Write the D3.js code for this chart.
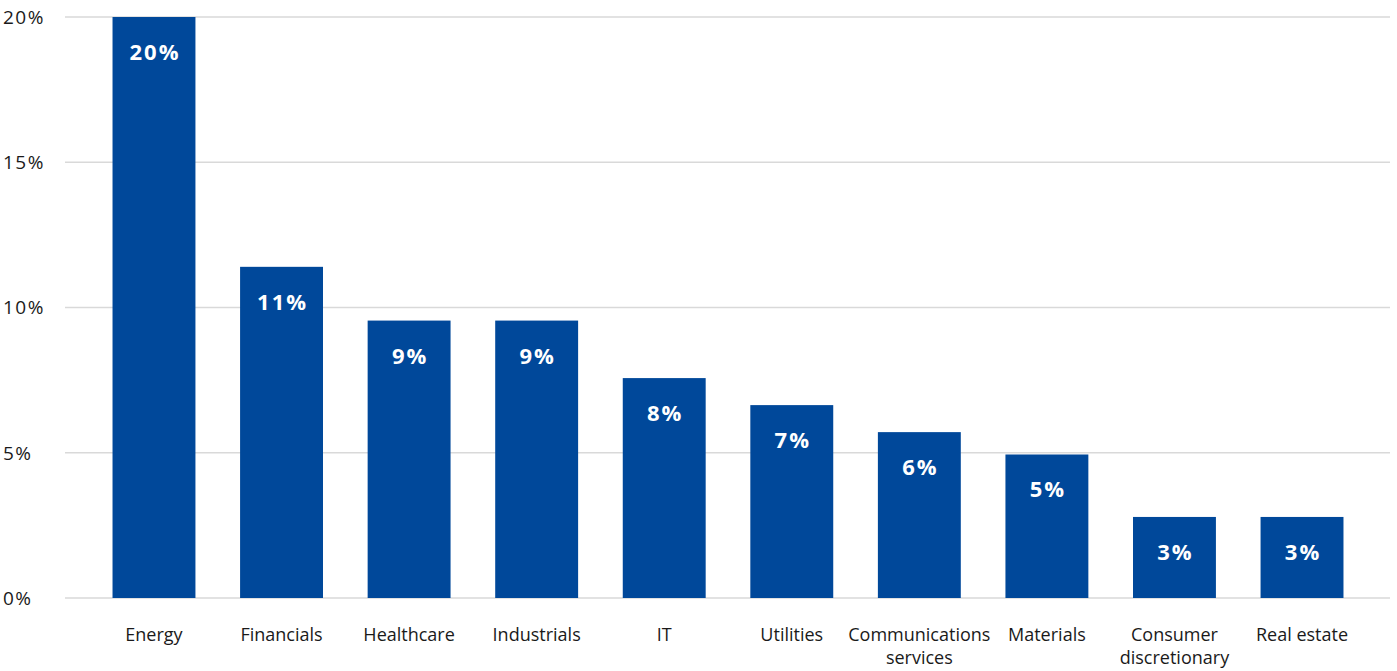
<!DOCTYPE html>
<html>
<head>
<meta charset="utf-8">
<script src="https://cdn.jsdelivr.net/npm/d3@7"></script>
<style>
  body { margin: 0; background: #fff; }
  svg { display: block; font-family: "Open Sans", Lato, sans-serif; }
</style>
</head>
<body>
<svg id="chart" width="1397" height="671"></svg>
<script>
const categories = ["Energy", "Financials", "Healthcare", "Industrials", "IT", "Utilities", "Communications services", "Materials", "Consumer discretionary", "Real estate"];
const values = [20.0, 11.4, 9.55, 9.55, 7.57, 6.64, 5.71, 4.94, 2.79, 2.79];
const valueLabels = ["20%", "11%", "9%", "9%", "8%", "7%", "6%", "5%", "3%", "3%"];
const yTicks = [0, 5, 10, 15, 20];
const yTickLabels = ["0%", "5%", "10%", "15%", "20%"];
const categoryLines = [["Energy"], ["Financials"], ["Healthcare"], ["Industrials"], ["IT"], ["Utilities"], ["Communications", "services"], ["Materials"], ["Consumer", "discretionary"], ["Real estate"]];

const svg = d3.select("#chart");
const gridLeft = 65, gridRight = 1390;

const x = d3.scaleBand().domain(categories).range([90.2, 1365.8]).paddingInner(0.35).paddingOuter(0.175);
const y = d3.scaleLinear().domain([0, 20]).range([598, 17]);

// gridlines
svg.append("g").selectAll("line").data(yTicks).join("line")
  .attr("x1", gridLeft).attr("x2", gridRight)
  .attr("y1", d => y(d)).attr("y2", d => y(d))
  .attr("stroke", "#d9d9d9").attr("stroke-width", 1.5);

// y tick labels
svg.append("g").selectAll("text").data(yTicks).join("text")
  .attr("x", 3).attr("y", d => y(d))
  .attr("dy", "0.36em")
  .attr("font-size", 19).attr("letter-spacing", 1.5).attr("fill", "#1a1a1a")
  .text((d, i) => yTickLabels[i]);

// bars
svg.append("g").selectAll("rect").data(categories).join("rect")
  .attr("x", d => x(d)).attr("width", x.bandwidth())
  .attr("y", (d, i) => y(values[i])).attr("height", (d, i) => y(0) - y(values[i]))
  .attr("fill", "#00489a");

// value labels
svg.append("g").selectAll("text").data(categories).join("text")
  .attr("x", d => x(d) + x.bandwidth() / 2 + 1)
  .attr("y", (d, i) => y(values[i]) + 43)
  .attr("text-anchor", "middle")
  .attr("font-size", 22).attr("font-weight", "bold").attr("letter-spacing", 2).attr("fill", "#fff")
  .text((d, i) => valueLabels[i]);

// category labels
const cl = svg.append("g").selectAll("text").data(categories).join("text")
  .attr("x", d => x(d) + x.bandwidth() / 2)
  .attr("y", 641)
  .attr("text-anchor", "middle")
  .attr("font-size", 18).attr("fill", "#1a1a1a");
cl.each(function(d, i) {
  const t = d3.select(this);
  categoryLines[i].forEach((line, j) => {
    t.append("tspan").attr("x", x(d) + x.bandwidth() / 2).attr("dy", j === 0 ? 0 : 23).text(line);
  });
});
</script>
</body>
</html>
